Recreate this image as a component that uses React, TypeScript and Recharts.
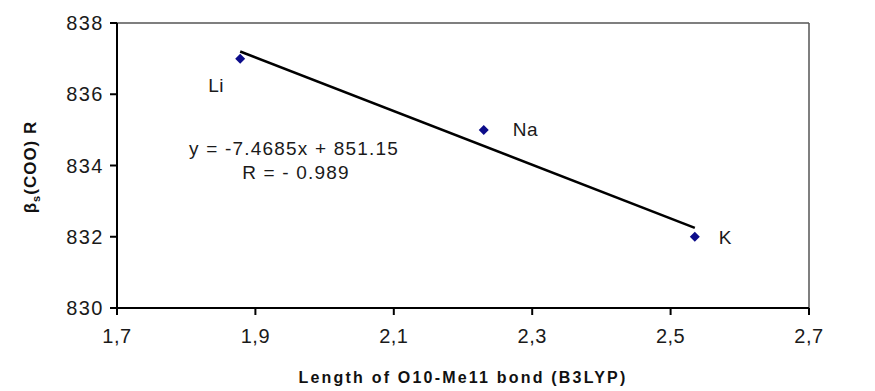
import { ScatterChart, Scatter, XAxis, YAxis, ReferenceLine } from "recharts"

const METALS = ["Li", "Na", "K"]
const BOND_LENGTH = [1.878, 2.23, 2.535]
const BETA = [837, 835, 832]

// trend line end points
const TREND_X = [1.878, 2.535]
const TREND_Y = [837.2, 832.25]

const X_TICKS = [1.7, 1.9, 2.1, 2.3, 2.5, 2.7]
const Y_TICKS = [830, 832, 834, 836, 838]

const EQUATION = "y = -7.4685x + 851.15"
const CORRELATION = "R = - 0.989"

const points = METALS.map((name, i) => ({ name, x: BOND_LENGTH[i], y: BETA[i] }))
const trend = TREND_X.map((x, i) => ({ x, y: TREND_Y[i] }))

const LABEL_POS: Record<string, { dx: number; dy: number; anchor: "start" | "middle" | "end" }> = {
  Li: { dx: -24, dy: 33, anchor: "middle" },
  Na: { dx: 29, dy: 6, anchor: "start" },
  K: { dx: 24, dy: 7, anchor: "start" },
}

const FONT = "'Liberation Sans', Arial, sans-serif"

function Diamond(props: any) {
  const { cx, cy, payload } = props
  const s = 5
  const pos = LABEL_POS[payload.name]
  return (
    <g>
      <polygon
        points={`${cx},${cy - s} ${cx + s},${cy} ${cx},${cy + s} ${cx - s},${cy}`}
        fill="#0c0c8a"
      />
      <text
        x={cx + pos.dx}
        y={cy + pos.dy}
        textAnchor={pos.anchor}
        style={{ fontFamily: FONT, fontSize: "19px", fill: "#1a1a1a", letterSpacing: "0.5px" }}
      >
        {payload.name}
      </text>
    </g>
  )
}

const noDot = () => <g />

export default function App() {
  return (
    <div style={{ position: "absolute", left: 0, top: 0, width: 875, height: 391, background: "#fff" }}>
      <ScatterChart width={875} height={391} margin={{ top: 23, right: 66, bottom: 0, left: 0 }}>
        <XAxis
          type="number"
          dataKey="x"
          domain={[1.7, 2.7]}
          ticks={X_TICKS}
          allowDataOverflow
          height={83}
          axisLine={{ stroke: "#000", strokeWidth: 2 }}
          tickLine={{ stroke: "#000", strokeWidth: 2 }}
          tickSize={7}
          tickMargin={14}
          tickFormatter={(v: number) => v.toFixed(1).replace(".", ",")}
          tick={{ fontFamily: FONT, fontSize: 20, fill: "#1a1a1a", letterSpacing: 0.5 }}
        />
        <YAxis
          type="number"
          dataKey="y"
          domain={[830, 838]}
          ticks={Y_TICKS}
          allowDataOverflow
          width={117}
          axisLine={{ stroke: "#000", strokeWidth: 2 }}
          tickLine={{ stroke: "#000", strokeWidth: 2 }}
          tickSize={7}
          tickMargin={6}
          tick={{ fontFamily: FONT, fontSize: 20, fill: "#1a1a1a", letterSpacing: 1.5 }}
        />
        <ReferenceLine y={838} stroke="#555" strokeWidth={1.5} />
        <ReferenceLine x={2.7} stroke="#555" strokeWidth={1.5} />
        <Scatter
          data={trend}
          line={{ stroke: "#000", strokeWidth: 2.5 }}
          shape={noDot}
          isAnimationActive={false}
        />
        <Scatter data={points} shape={Diamond} isAnimationActive={false} />
        <text
          x={294}
          y={155}
          textAnchor="middle"
          style={{ fontFamily: FONT, fontSize: "19px", fill: "#1a1a1a", letterSpacing: "1.2px" }}
        >
          {EQUATION}
        </text>
        <text
          x={296}
          y={179}
          textAnchor="middle"
          style={{ fontFamily: FONT, fontSize: "19px", fill: "#1a1a1a", letterSpacing: "1.2px" }}
        >
          {CORRELATION}
        </text>
        <text
          x={463}
          y={383}
          textAnchor="middle"
          style={{ fontFamily: FONT, fontSize: "16px", fontWeight: 700, fill: "#111", letterSpacing: "2.2px" }}
        >
          Length of O10-Me11 bond (B3LYP)
        </text>
        <text
          transform="translate(36,167) rotate(-90)"
          textAnchor="middle"
          style={{ fontFamily: FONT, fontSize: "17px", fontWeight: 700, fill: "#111", letterSpacing: "1px" }}
        >
          β<tspan fontSize="11" dy="4">s</tspan>
          <tspan dy="-4">(COO) R</tspan>
        </text>
      </ScatterChart>
    </div>
  )
}
